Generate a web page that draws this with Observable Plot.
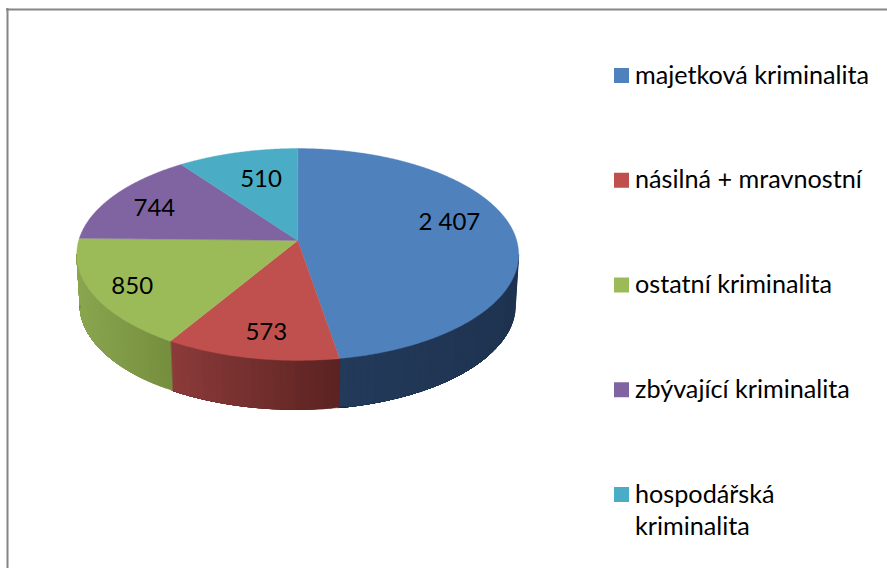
<!DOCTYPE html>
<html>
<head>
<meta charset="utf-8">
<style>html,body{margin:0;padding:0;background:#fff}svg{display:block}</style>
<script src="https://cdn.jsdelivr.net/npm/d3@7"></script>
<script src="https://cdn.jsdelivr.net/npm/@observablehq/plot@0.6"></script>
</head>
<body>
<div id="chart"></div>
<script>
const categories = ["majetková kriminalita", "násilná + mravnostní", "ostatní kriminalita", "zbývající kriminalita", "hospodářská\nkriminalita"];
const values = [2407, 573, 850, 744, 510];
const valueLabels = ["2 407", "573", "850", "744", "510"];
const topColors = ["#4f81bd", "#c0504d", "#9bbb59", "#8064a2", "#4bacc6"];
const sideLeftColors = ["#233a5a", "#8c3c3a", "#8aa64f", "#5a4672", "#347a8c"];
const sideRightColors = ["#1e3350", "#5c2322", "#768f3f", "#4d3c62", "#2c6878"];

// Pie geometry: perspective-projected disc
const cx = 297.2, cy = 240, R = 219, H = 104.1, k = 0.132, depth = 50.8, shrink = 0.985;
const project = (theta, r = 1, lift = 0) => {
  const u = Math.sin(theta) * r, w = Math.cos(theta) * r, d = 1 + k * w;
  const s = lift ? shrink : 1;
  return [cx + (R * u / d) * s, cy + lift + (H * -w / d) * s];
};
const total = d3.sum(values);
const ends = Array.from(d3.cumsum(values), (v) => (v / total) * 2 * Math.PI);
const starts = [0, ...ends.slice(0, -1)];

// Visible wall runs between the silhouette tangents of the disc
const wallStart = Math.acos(-k), wallEnd = 2 * Math.PI - wallStart;
const topPts = [], sidePts = [];
values.forEach((_, i) => {
  const a0 = starts[i], a1 = ends[i];
  const n = Math.ceil((a1 - a0) / 0.008);
  topPts.push({id: i, p: [cx, cy]});
  for (let j = 0; j <= n; j++) topPts.push({id: i, p: project(a0 + ((a1 - a0) * j) / n)});
  const lo = Math.max(a0, wallStart), hi = Math.min(a1, wallEnd);
  if (hi > lo) {
    const m = Math.ceil((hi - lo) / 0.03);
    const fine = Math.ceil((hi - lo) / 0.01);
    const shade = d3.interpolateRgb(sideRightColors[i], sideLeftColors[i]);
    const xA = project(hi)[0], xB = project(lo)[0];
    for (let j = 0; j < m; j++) {
      // each band paints from its own start to the slice end; the next band overlaps it, so no seams
      const t0 = lo + ((hi - lo) * j) / m;
      const f = (project(t0)[0] - xB) / (xA - xB || 1);
      const col = d3.rgb(shade(f)).formatHex();
      const id = i + "-" + j;
      const arc = d3.range(fine + 1).map((q) => t0 + ((hi - t0) * q) / fine);
      arc.forEach((t) => sidePts.push({id, p: project(t), col}));
      arc.reverse().forEach((t) => sidePts.push({id, p: project(t, 1, depth), col}));
    }
  }
});

const mids = values.map((_, i) => (starts[i] + ends[i]) / 2);
const labelNudge = [[0, -12], [0, 13], [-25, 9], [-13, 0], [7, 2]];
const labels = valueLabels.map((t, i) => {
  const [x, y] = project(mids[i], 0.7);
  return {t, x: x + labelNudge[i][0], y: y + labelNudge[i][1]};
});

const legendTop = 68, legendStep = 104.75, swatch = 15, legendX = 614;
const legend = categories.map((c, i) => ({c, i, y: legendTop + i * legendStep}));
const font = "Lato, Carlito, sans-serif";

const plot = Plot.plot({
  width: 887, height: 568,
  marginTop: 0, marginRight: 0, marginBottom: 0, marginLeft: 0,
  x: {domain: [0, 887], range: [0, 887], axis: null},
  y: {domain: [0, 568], range: [0, 568], axis: null},
  color: {type: "identity"},
  style: {background: "#fff", fontFamily: font},
  marks: [
    Plot.ruleX([7], {y1: 8, y2: 568, stroke: "#868686", strokeWidth: 2}),
    Plot.ruleY([9], {x1: 6, x2: 887, stroke: "#868686", strokeWidth: 2}),
    Plot.line(sidePts, {x: (d) => d.p[0], y: (d) => d.p[1], z: "id", fill: "col", stroke: "col", strokeWidth: 0.5, curve: "linear-closed"}),
    ...topColors.map((col, i) => Plot.line(topPts.filter((d) => d.id === i), {x: (d) => d.p[0], y: (d) => d.p[1], fill: col, stroke: col, strokeWidth: 0.4, curve: "linear-closed"})),
    Plot.text(labels, {x: "x", y: "y", text: "t", fontSize: 24, fill: "#000", fontFamily: font}),
    Plot.rect(legend, {x1: legendX, x2: legendX + swatch, y1: "y", y2: (d) => d.y + swatch, fill: (d) => topColors[d.i]}),
    Plot.text(legend, {x: legendX + 20.5, y: (d) => d.y - 7.5, text: "c", textAnchor: "start", lineAnchor: "top", fontSize: 25.2, lineHeight: 1.27, fill: "#000", fontFamily: font})
  ]
});
document.getElementById("chart").appendChild(plot);
</script>
</body>
</html>
